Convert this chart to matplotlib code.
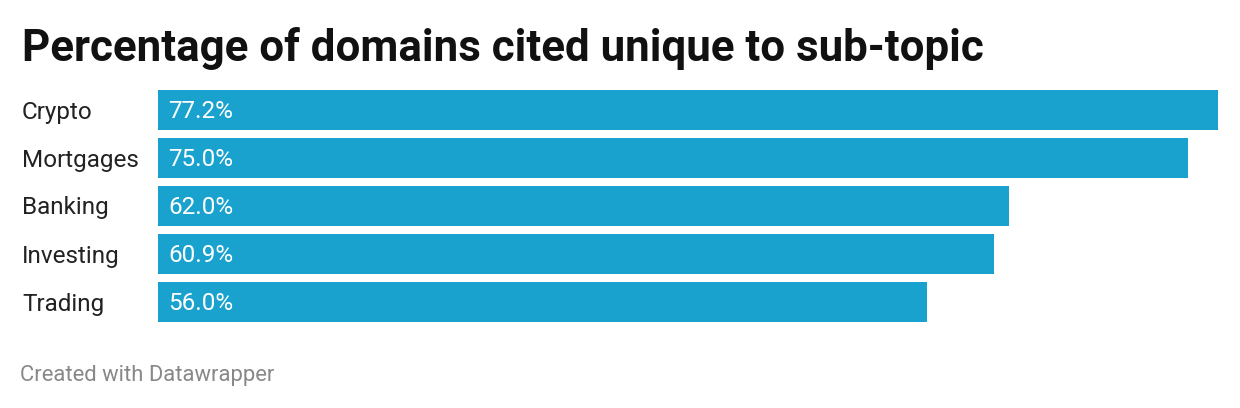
import matplotlib.pyplot as plt

categories = ["Crypto", "Mortgages", "Banking", "Investing", "Trading"]
values = [77.2, 75.0, 62.0, 60.9, 56.0]
value_labels = ["77.2%", "75.0%", "62.0%", "60.9%", "56.0%"]

plt.rcParams['font.family'] = ['Roboto', 'DejaVu Sans']

W, H = 1240, 408
fig = plt.figure(figsize=(W / 100, H / 100), dpi=100)
ax = fig.add_axes([158 / W, 1 - 322 / H, (1218 - 158) / W, (322 - 90) / H])

bar_h = 40 / 48
ypos = list(range(len(categories)))
ax.barh(ypos, values, height=bar_h, color="#1aa2cf")
ax.set_xlim(0, max(values))
ax.set_ylim(len(categories) - 1 + 20 / 48, -20 / 48)
ax.axis("off")

# nudge labels down a couple of pixels
dy = 2 / 48
for y, cat, lab in zip(ypos, categories, value_labels):
    ax.text(-136 / 1060 * max(values), y + dy, cat, ha="left", va="center",
            fontsize=17.5, color="#222222")
    ax.text(10 / 1060 * max(values), y + dy, lab, ha="left", va="center",
            fontsize=17.5, color="white")

fig.text(22 / W, 1 - 48 / H, "Percentage of domains cited unique to sub-topic",
         fontsize=31.6, fontweight="bold", va="center", ha="left", color="#111111")
fig.text(20 / W, 1 - 376 / H, "Created with Datawrapper",
         fontsize=15.8, va="center", ha="left", color="#888888")

fig.savefig("out.png", dpi=100)
